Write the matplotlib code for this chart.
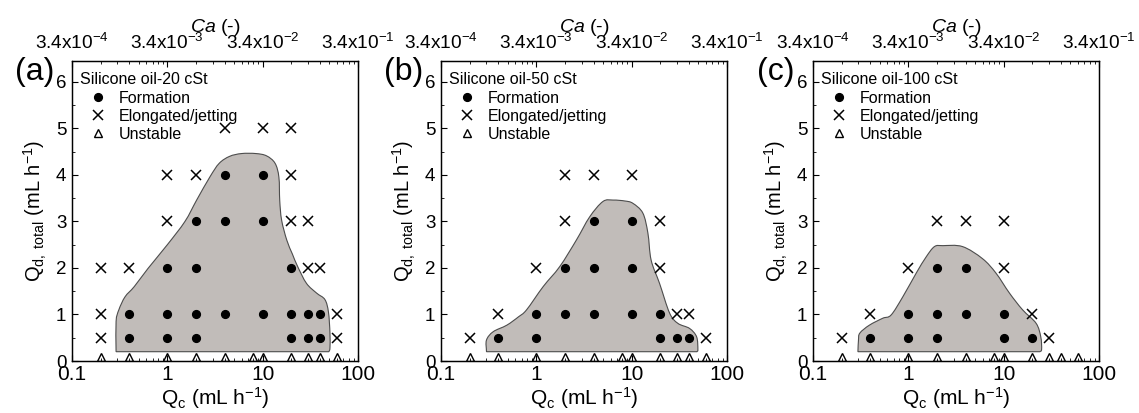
import numpy as np
import matplotlib
matplotlib.use('Agg')
import matplotlib.pyplot as plt
from matplotlib.path import Path
from matplotlib.patches import PathPatch
from matplotlib.ticker import FixedLocator, MultipleLocator, LogLocator, NullFormatter, FixedFormatter

plt.rcParams['font.family'] = ['Liberation Sans', 'DejaVu Sans']
plt.rcParams['mathtext.fontset'] = 'custom'
plt.rcParams['mathtext.rm'] = 'Liberation Sans'
plt.rcParams['mathtext.it'] = 'Liberation Sans:italic'
plt.rcParams['mathtext.default'] = 'regular'

# ---------------- data ----------------
panel_letters = ['(a)', '(b)', '(c)']
oil_names = ['Silicone oil-20 cSt', 'Silicone oil-50 cSt', 'Silicone oil-100 cSt']
legend_labels = ['Formation', 'Elongated/jetting', 'Unstable']
qc_ticks = [0.1, 1, 10, 100]
qc_ticklabels = ['0.1', '1', '10', '100']
ca_ticklabels = [r'3.4x10$^{-4}$', r'3.4x10$^{-3}$', r'3.4x10$^{-2}$', r'3.4x10$^{-1}$']
qd_ticks = [0, 1, 2, 3, 4, 5, 6]

# panel (a)  20 cSt
form_a_qc = [4, 10, 2, 4, 10, 1, 2, 20, 0.4, 1, 2, 4, 10, 20, 30, 40, 0.4, 1, 2, 20, 30, 40]
form_a_qd = [4, 4, 3, 3, 3, 2, 2, 2, 1, 1, 1, 1, 1, 1, 1, 1, 0.5, 0.5, 0.5, 0.5, 0.5, 0.5]
jet_a_qc = [4, 10, 20, 1, 2, 20, 1, 20, 30, 0.2, 0.4, 30, 40, 0.2, 60, 0.2, 60]
jet_a_qd = [5, 5, 5, 4, 4, 4, 3, 3, 3, 2, 2, 2, 2, 1, 1, 0.5, 0.5]
uns_a_qc = [0.2, 0.4, 1, 2, 4, 8, 10, 20, 30, 40, 60]
uns_a_qd = [0.08] * 11
region_a_qc = [0.29, 0.29, 0.31, 0.36, 0.45, 0.627, 1.0, 1.53, 2.03, 2.8, 3.5, 4.5, 6.0, 8.5,
               11.0, 13.5, 14.8, 15.1, 15.8, 17.9, 20.5, 23.3, 28.8, 36.8, 45.0, 49.0, 50.8, 50.8, 49.5]
region_a_qd = [0.2, 0.85, 1.1, 1.38, 1.6, 1.99, 2.5, 3.0, 3.46, 3.96, 4.25, 4.4, 4.46, 4.46,
               4.41, 4.25, 3.95, 3.45, 3.03, 2.6, 2.3, 2.03, 1.67, 1.46, 1.32, 1.05, 0.6, 0.28, 0.2]

# panel (b)  50 cSt
form_b_qc = [4, 10, 2, 4, 10, 1, 2, 4, 10, 20, 0.4, 1, 20, 30, 40]
form_b_qd = [3, 3, 2, 2, 2, 1, 1, 1, 1, 1, 0.5, 0.5, 0.5, 0.5, 0.5]
jet_b_qc = [2, 4, 10, 2, 20, 1, 20, 0.4, 30, 40, 0.2, 60]
jet_b_qd = [4, 4, 4, 3, 3, 2, 2, 1, 1, 1, 0.5, 0.5]
uns_b_qc = [0.2, 0.4, 1, 2, 4, 8, 10, 20, 30, 40, 60]
uns_b_qd = [0.08] * 11
region_b_qc = [0.3, 0.3, 0.353, 0.49, 0.65, 0.79, 1.18, 1.76, 2.63, 3.63, 5.0, 6.4, 8.5,
               10.3, 13.1, 14.8, 16.0, 19.6, 25.0, 30.5, 40.5, 48.0, 49.5, 48.5]
region_b_qd = [0.2, 0.45, 0.63, 0.77, 0.95, 1.1, 1.6, 2.03, 2.6, 3.1, 3.43, 3.46, 3.44,
               3.39, 3.18, 2.75, 2.17, 1.67, 1.03, 0.81, 0.7, 0.52, 0.25, 0.2]

# panel (c)  100 cSt
form_c_qc = [2, 4, 1, 2, 4, 10, 0.4, 1, 2, 10, 20]
form_c_qd = [2, 2, 1, 1, 1, 1, 0.5, 0.5, 0.5, 0.5, 0.5]
jet_c_qc = [2, 4, 10, 1, 10, 0.4, 20, 0.2, 30]
jet_c_qd = [3, 3, 3, 2, 2, 1, 1, 0.5, 0.5]
uns_c_qc = [0.2, 0.4, 1, 2, 4, 8, 10, 20, 30, 40, 60]
uns_c_qd = [0.08] * 11
region_c_qc = [0.296, 0.3, 0.31, 0.39, 0.54, 0.66, 0.875, 1.21, 1.54, 1.88, 2.3, 3.7, 6.0,
               8.3, 11.5, 15.8, 21.9, 24.5, 25.0, 24.0]
region_c_qd = [0.2, 0.45, 0.6, 0.77, 0.92, 0.99, 1.38, 1.89, 2.24, 2.46, 2.48, 2.46, 2.2,
               1.89, 1.46, 1.1, 0.81, 0.52, 0.25, 0.2]

panels = [
    (form_a_qc, form_a_qd, jet_a_qc, jet_a_qd, uns_a_qc, uns_a_qd, region_a_qc, region_a_qd),
    (form_b_qc, form_b_qd, jet_b_qc, jet_b_qd, uns_b_qc, uns_b_qd, region_b_qc, region_b_qd),
    (form_c_qc, form_c_qd, jet_c_qc, jet_c_qd, uns_c_qc, uns_c_qd, region_c_qc, region_c_qd),
]


def smooth_outline(xs, ys):
    """Smooth open outline (Catmull-Rom as Bezier) in log-x space, closed along the bottom."""
    P = np.column_stack([np.log10(xs), np.asarray(ys, float)])
    ext = np.vstack([2 * P[0] - P[1], P, 2 * P[-1] - P[-2]])
    verts = [P[0]]
    codes = [Path.MOVETO]
    for i in range(1, len(ext) - 2):
        p0, p1, p2, p3 = ext[i - 1], ext[i], ext[i + 1], ext[i + 2]
        verts += [p1 + (p2 - p0) / 6.0, p2 - (p3 - p1) / 6.0, p2]
        codes += [Path.CURVE4] * 3
    verts += [P[0], P[0]]
    codes += [Path.LINETO, Path.CLOSEPOLY]
    V = np.array(verts)
    V[:, 0] = 10 ** V[:, 0]
    return Path(V, codes)


W, H = 1139, 413
fig = plt.figure(figsize=(W / 100, H / 100), dpi=100)
lefts = [72, 441, 813]
ax_w, ax_top, ax_bot = 286, 61, 361

for k, left in enumerate(lefts):
    fq, fd, jq, jd, uq, ud, rq, rd = panels[k]
    ax = fig.add_axes([left / W, 1 - ax_bot / H, ax_w / W, (ax_bot - ax_top) / H])
    ax.set_xscale('log')
    ax.set_xlim(0.1, 100)
    ax.set_ylim(0, 6.45)

    ax.add_patch(PathPatch(smooth_outline(rq, rd), facecolor='#c1bcb9',
                           edgecolor='#4d4d4d', lw=0.8, zorder=1))
    ax.plot(fq, fd, 'o', ms=5.6, color='black', mec='black', ls='none',
            label=legend_labels[0], zorder=3)
    ax.plot(jq, jd, 'x', ms=6.8, mew=1.1, color='black', ls='none',
            label=legend_labels[1], zorder=3)
    ax.plot(uq, ud, '^', ms=5.5, mfc='none', mec='black', mew=1.0, ls='none',
            label=legend_labels[2], zorder=3)

    ax.xaxis.set_major_locator(FixedLocator(qc_ticks))
    ax.xaxis.set_major_formatter(FixedFormatter(qc_ticklabels))
    ax.xaxis.set_minor_locator(LogLocator(base=10, subs=np.arange(2, 10)))
    ax.xaxis.set_minor_formatter(NullFormatter())
    ax.yaxis.set_major_locator(FixedLocator(qd_ticks))
    ax.yaxis.set_minor_locator(MultipleLocator(0.5))
    ax.tick_params(axis='x', which='major', direction='in', length=4, labelsize=15, pad=3,
                   top=False)
    ax.tick_params(axis='x', which='minor', direction='in', length=2, top=False)
    ax.tick_params(axis='y', which='major', direction='in', length=4, labelsize=13.5, pad=4,
                   right=False)
    ax.tick_params(axis='y', which='minor', direction='in', length=2, right=False)
    for s in ax.spines.values():
        s.set_linewidth(0.9)

    ax.set_xlabel(r'Q$_{c}$ (mL h$^{-1}$)', fontsize=15, labelpad=1)
    ax.set_ylabel(r'Q$_{d,\ total}$ (mL h$^{-1}$)', fontsize=14.5, labelpad=5)

    leg = ax.legend(loc='upper left', bbox_to_anchor=(0.028, 0.962), frameon=False,
                    title=oil_names[k], title_fontsize=11.5, fontsize=11.5,
                    alignment='left', numpoints=1, borderpad=0, borderaxespad=0,
                    handlelength=2.2, handletextpad=0.2, labelspacing=0.2)

    ax.text(-0.063, 0.963, panel_letters[k], transform=ax.transAxes, fontsize=23,
            ha='right', va='center')

    ax2 = ax.twiny()
    ax2.set_xscale('log')
    ax2.set_xlim(0.1, 100)
    ax2.xaxis.set_major_locator(FixedLocator(qc_ticks))
    ax2.xaxis.set_major_formatter(FixedFormatter(ca_ticklabels))
    ax2.xaxis.set_minor_locator(LogLocator(base=10, subs=np.arange(2, 10)))
    ax2.xaxis.set_minor_formatter(NullFormatter())
    ax2.tick_params(axis='x', which='major', direction='in', length=4, labelsize=13.7, pad=6)
    ax2.tick_params(axis='x', which='minor', direction='in', length=2)
    ax2.set_xlabel(r'$\mathit{Ca}$ (-)', fontsize=14)
    ax2.xaxis.set_label_coords(0.5, 1.098)
    for s in ax2.spines.values():
        s.set_linewidth(0.9)

fig.savefig('out.png', dpi=100)
